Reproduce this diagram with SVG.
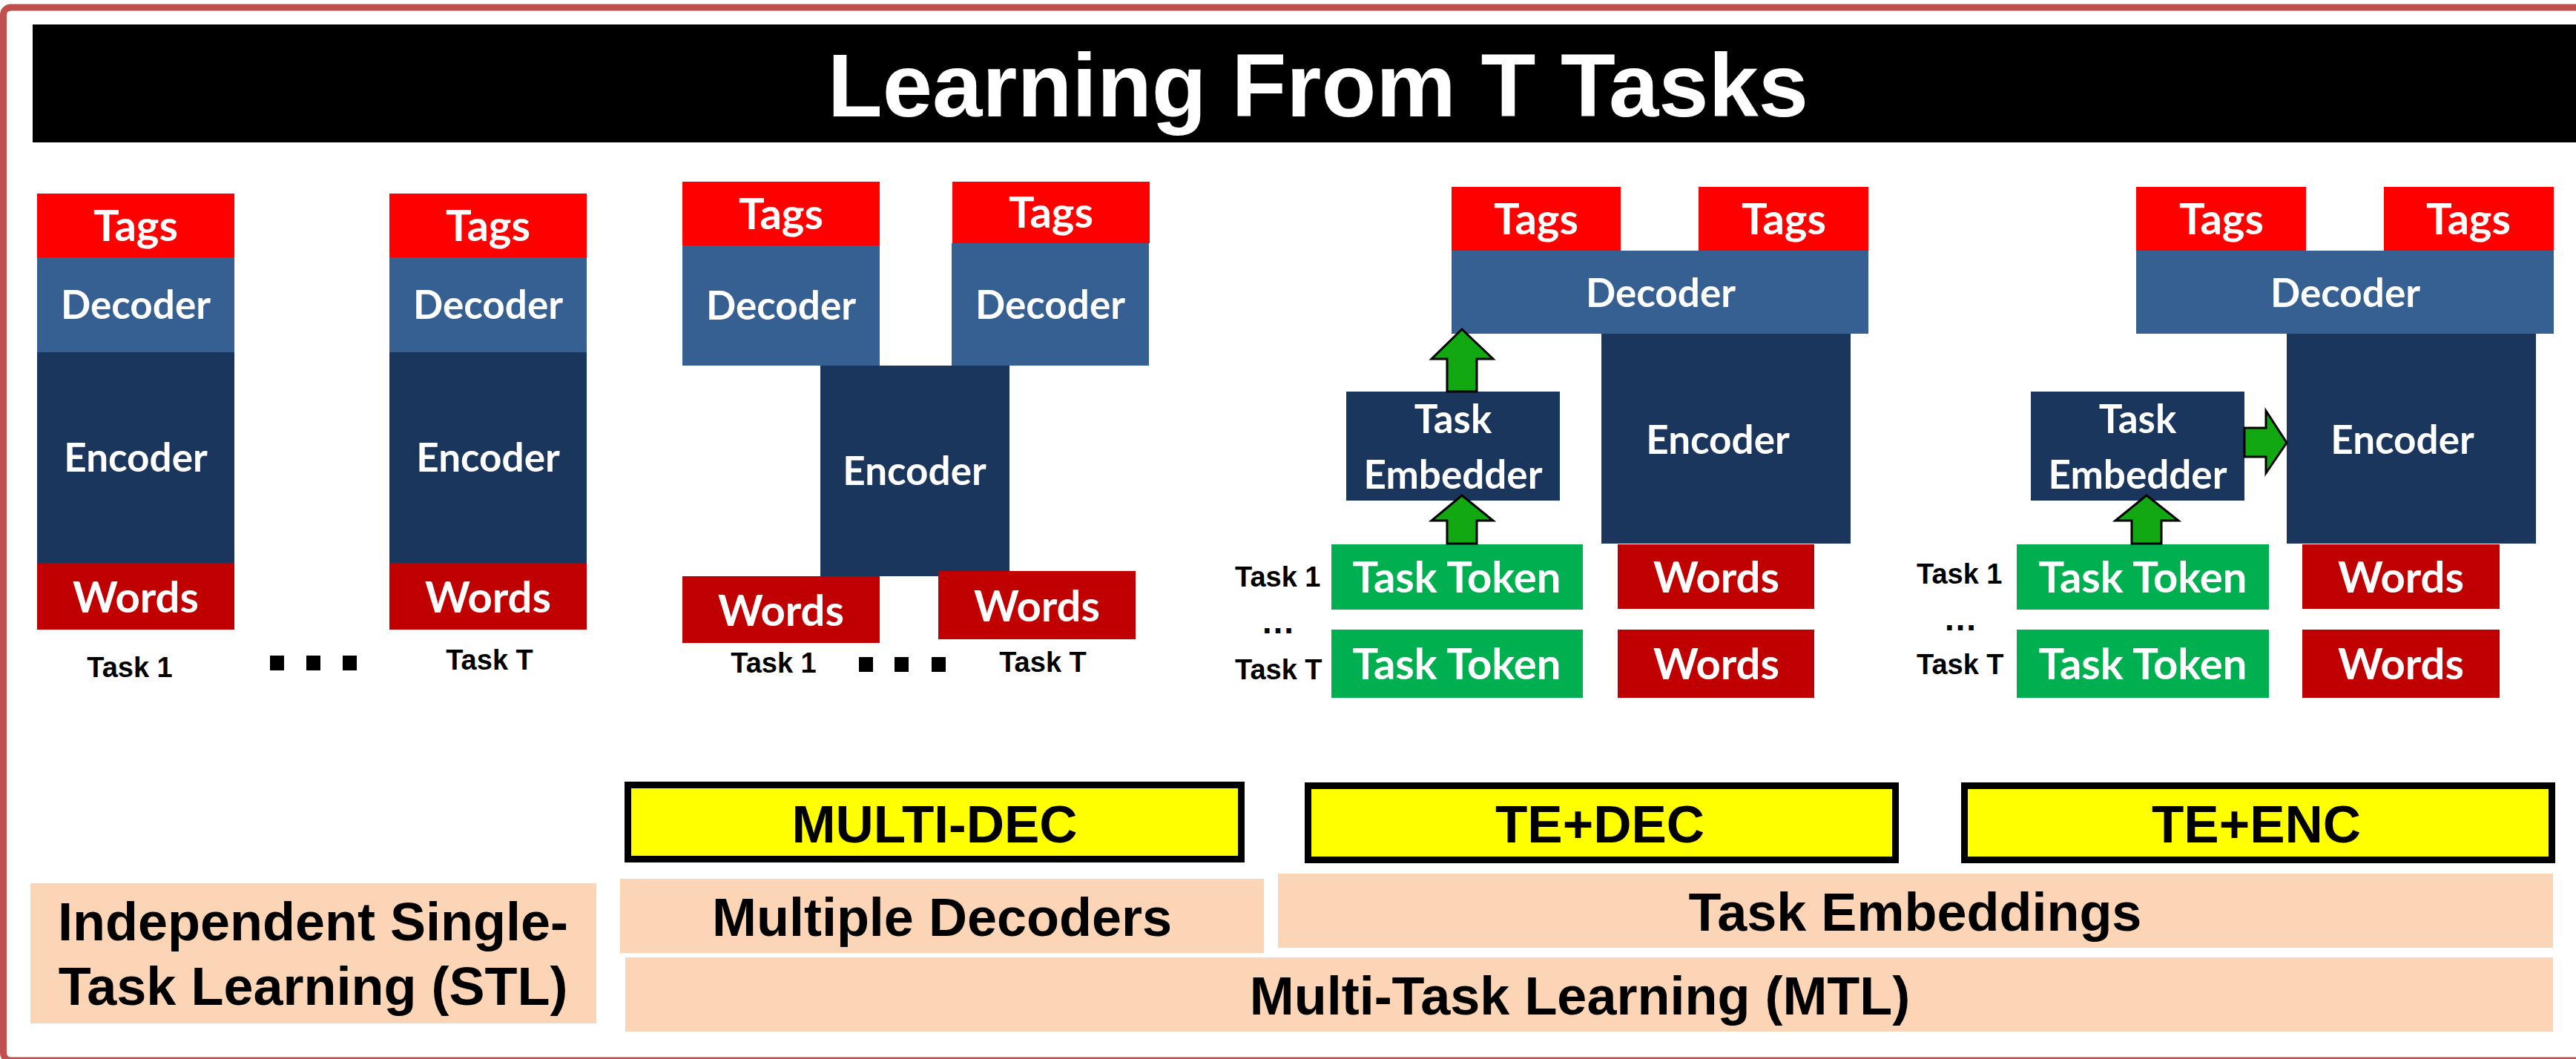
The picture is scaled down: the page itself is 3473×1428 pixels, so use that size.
<svg xmlns="http://www.w3.org/2000/svg" width="3473" height="1428" viewBox="0 0 3473 1428">
<style>
.tags{fill:#FF0000}
.dec{fill:#376092}
.enc{fill:#1B365D}
.words{fill:#C00000}
.tok{fill:#00B050}
.peach{fill:#FBD5B5}
.ybox{fill:#FFFF00;stroke:#000;stroke-width:9}
.arr{fill:#12A812;stroke:#000;stroke-width:3;stroke-linejoin:miter}
.wl{font-family:Lato,"Open Sans",sans-serif;font-weight:bold;fill:#fff;text-anchor:middle}
.big{font-size:58px}
.mid{font-size:53px}
.tl{font-family:"Liberation Sans",Arial,sans-serif;font-weight:bold;fill:#000;font-size:38px}
.ell{font-family:"Liberation Sans",Arial,sans-serif;font-weight:bold;fill:#000;font-size:46px}
.bl{font-family:"Liberation Sans",Arial,sans-serif;font-weight:bold;fill:#000;font-size:72px;text-anchor:middle}
.dot{fill:#000}
</style>
<rect x="0" y="0" width="3473" height="1428" fill="#fff"/>
<rect x="4.5" y="10" width="3480" height="1420" rx="10" fill="none" stroke="#C0504D" stroke-width="9"/>
<g id="title">
<rect x="44" y="33" width="3429" height="159" fill="#000"/>
<text x="1777" y="157" font-family="Liberation Sans, Arial, sans-serif" font-weight="bold" font-size="121" fill="#fff" text-anchor="middle">Learning From T Tasks</text>
</g>

<!-- STL -->
<g id="stl-task1">
<rect class="tags" x="50" y="261" width="266" height="86"/><text class="wl big" x="183" y="325">Tags</text>
<rect class="dec" x="50" y="347" width="266" height="128"/><text class="wl mid" x="183" y="430">Decoder</text>
<rect class="enc" x="50" y="475" width="266" height="284"/><text class="wl mid" x="183" y="636">Encoder</text>
<rect class="words" x="50" y="759" width="266" height="90"/><text class="wl big" x="183" y="826">Words</text>
<text class="tl" x="175" y="913" text-anchor="middle">Task 1</text>
</g>
<g id="stl-taskT">
<rect class="tags" x="525" y="261" width="266" height="86"/><text class="wl big" x="658" y="325">Tags</text>
<rect class="dec" x="525" y="347" width="266" height="128"/><text class="wl mid" x="658" y="430">Decoder</text>
<rect class="enc" x="525" y="475" width="266" height="284"/><text class="wl mid" x="658" y="636">Encoder</text>
<rect class="words" x="525" y="759" width="266" height="90"/><text class="wl big" x="658" y="826">Words</text>
<text class="tl" x="660" y="903" text-anchor="middle">Task T</text>
</g>
<g id="stl-dots">
<rect class="dot" x="364" y="884" width="19" height="20"/>
<rect class="dot" x="413" y="884" width="19" height="20"/>
<rect class="dot" x="462" y="884" width="19" height="20"/>
</g>

<!-- MULTI-DEC -->
<g id="md-dec1">
<rect class="tags" x="920" y="245" width="266" height="86"/><text class="wl big" x="1053" y="309">Tags</text>
<rect class="dec" x="920" y="331" width="266" height="162"/><text class="wl mid" x="1053" y="431">Decoder</text>
</g>
<g id="md-dec2">
<rect class="tags" x="1284" y="245" width="266" height="83"/><text class="wl big" x="1417" y="307">Tags</text>
<rect class="dec" x="1283" y="328" width="266" height="165"/><text class="wl mid" x="1416" y="430">Decoder</text>
</g>
<g id="md-enc">
<rect class="enc" x="1106" y="493" width="255" height="284"/><text class="wl mid" x="1233" y="654">Encoder</text>
</g>
<g id="md-words1">
<rect class="words" x="920" y="777" width="266" height="90"/><text class="wl big" x="1053" y="844">Words</text>
<text class="tl" x="1043" y="907" text-anchor="middle">Task 1</text>
</g>
<g id="md-words2">
<rect class="words" x="1265" y="770" width="266" height="92"/><text class="wl big" x="1398" y="838">Words</text>
<text class="tl" x="1406" y="906" text-anchor="middle">Task T</text>
</g>
<g id="md-dots">
<rect class="dot" x="1158" y="886" width="19" height="20"/>
<rect class="dot" x="1206" y="886" width="19" height="20"/>
<rect class="dot" x="1256" y="886" width="19" height="20"/>
</g>

<!-- TE+DEC -->
<g id="td-tags">
<rect class="tags" x="1957" y="252" width="228" height="86"/><text class="wl big" x="2071" y="316">Tags</text>
<rect class="tags" x="2290" y="252" width="229" height="86"/><text class="wl big" x="2405" y="316">Tags</text>
</g>
<g id="td-dec">
<rect class="dec" x="1957" y="338" width="562" height="112"/><text class="wl mid" x="2239" y="414">Decoder</text>
</g>
<g id="td-enc">
<rect class="enc" x="2159" y="450" width="336" height="283"/><text class="wl mid" x="2316" y="612">Encoder</text>
</g>
<g id="td-emb">
<rect class="enc" x="1815" y="528" width="288" height="147"/>
<text class="wl mid" x="1959" y="584">Task</text>
<text class="wl mid" x="1959" y="659">Embedder</text>
</g>
<g id="td-tok1">
<rect class="tok" x="1795" y="734" width="339" height="88"/><text class="wl big" x="1964" y="799">Task Token</text>
<text class="tl" x="1665" y="791">Task 1</text>
</g>
<g id="td-words1">
<rect class="words" x="2181" y="734" width="265" height="87"/><text class="wl big" x="2314" y="799">Words</text>
</g>
<text class="ell" x="1700" y="854">…</text>
<g id="td-tokT">
<rect class="tok" x="1795" y="849" width="339" height="92"/><text class="wl big" x="1964" y="916">Task Token</text>
<text class="tl" x="1665" y="916">Task T</text>
</g>
<g id="td-wordsT">
<rect class="words" x="2181" y="849" width="265" height="92"/><text class="wl big" x="2314" y="916">Words</text>
</g>

<!-- TE+ENC -->
<g id="te-tags">
<rect class="tags" x="2880" y="252" width="229" height="86"/><text class="wl big" x="2995" y="316">Tags</text>
<rect class="tags" x="3214" y="252" width="229" height="86"/><text class="wl big" x="3328" y="316">Tags</text>
</g>
<g id="te-dec">
<rect class="dec" x="2880" y="338" width="563" height="112"/><text class="wl mid" x="3162" y="414">Decoder</text>
</g>
<g id="te-enc">
<rect class="enc" x="3083" y="450" width="336" height="283"/><text class="wl mid" x="3239" y="612">Encoder</text>
</g>
<g id="te-emb">
<rect class="enc" x="2738" y="528" width="288" height="147"/>
<text class="wl mid" x="2882" y="584">Task</text>
<text class="wl mid" x="2882" y="659">Embedder</text>
</g>
<g id="te-tok1">
<rect class="tok" x="2719" y="734" width="340" height="88"/><text class="wl big" x="2889" y="799">Task Token</text>
<text class="tl" x="2584" y="787">Task 1</text>
</g>
<g id="te-words1">
<rect class="words" x="3104" y="734" width="266" height="87"/><text class="wl big" x="3237" y="799">Words</text>
</g>
<text class="ell" x="2620" y="850">…</text>
<g id="te-tokT">
<rect class="tok" x="2719" y="849" width="340" height="92"/><text class="wl big" x="2889" y="916">Task Token</text>
<text class="tl" x="2584" y="909">Task T</text>
</g>
<g id="te-wordsT">
<rect class="words" x="3104" y="849" width="266" height="92"/><text class="wl big" x="3237" y="916">Words</text>
</g>

<g id="connectors">
<polygon class="arr" points="1971,444 2013,484 1991,484 1991,528 1951,528 1951,484 1930,484"/>
<polygon class="arr" points="1971,668 2013,702 1991,702 1991,733 1951,733 1951,702 1930,702"/>
<polygon class="arr" points="2894,668 2937,702 2914,702 2914,733 2874,733 2874,702 2852,702"/>
<polygon class="arr" points="3083,597 3055,638 3055,616 3026,616 3026,577 3055,577 3055,554"/>
</g>

<!-- bottom labels -->
<g id="lbl-multidec">
<rect class="ybox" x="846.5" y="1058.5" width="827" height="100"/>
<text class="bl" x="1260" y="1136" style="font-size:71px">MULTI-DEC</text>
</g>
<g id="lbl-tedec">
<rect class="ybox" x="1763.5" y="1059.5" width="792" height="100"/>
<text class="bl" x="2157" y="1136" style="font-size:71px">TE+DEC</text>
</g>
<g id="lbl-teenc">
<rect class="ybox" x="2648.5" y="1059.5" width="792" height="100"/>
<text class="bl" x="3042" y="1136" style="font-size:71px">TE+ENC</text>
</g>
<g id="lbl-stl">
<rect class="peach" x="41" y="1191" width="763" height="189"/>
<text class="bl" x="422" y="1268">Independent Single-</text>
<text class="bl" x="422" y="1355">Task Learning (STL)</text>
</g>
<g id="lbl-multiple">
<rect class="peach" x="836" y="1185" width="868" height="100"/>
<text class="bl" x="1270" y="1262">Multiple Decoders</text>
</g>
<g id="lbl-te">
<rect class="peach" x="1723" y="1178" width="1719" height="100"/>
<text class="bl" x="2582" y="1255">Task Embeddings</text>
</g>
<g id="lbl-mtl">
<rect class="peach" x="843" y="1291" width="2599" height="100"/>
<text class="bl" x="2130" y="1368">Multi-Task Learning (MTL)</text>
</g>
</svg>
